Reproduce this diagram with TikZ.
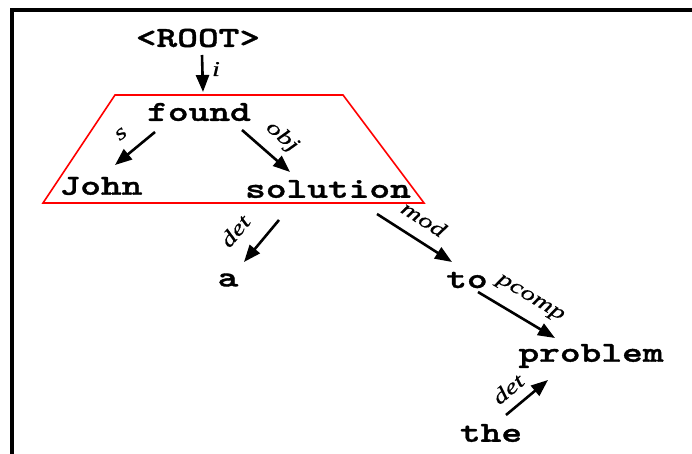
\documentclass[tikz,border=0pt]{standalone}
\usepackage{fontspec}
\usetikzlibrary{arrows.meta}
\newfontfamily\wordfont[FakeStretch=1.36,FakeBold=1.2]{lmmonolt10-bold.otf}
\newfontfamily\relfont[FakeStretch=1.35,FakeBold=0.5]{Liberation Serif}
\tikzset{
  word/.style={inner sep=0pt, font=\wordfont\fontsize{29}{29}\selectfont},
  rel/.style={inner sep=0pt, font=\relfont\itshape\fontsize{21}{21}\selectfont},
  dep/.style={line width=2.6pt, -{Triangle[length=17pt,width=13pt]}},
  frameline/.style={line width=4pt},
  phrase/.style={draw=red, line width=1.6pt}
}
\begin{document}
\begin{tikzpicture}[x=1pt,y=-1pt]
\useasboundingbox (0,0) rectangle (692,454);
% page frame
\draw[frameline] (12,454) -- (12,10) -- (692,10);
% words
\node[word] (root) at (198,38) {<ROOT>};
\node[word] (found) at (199,112) {found};
\node[word] (John) at (101,186) {John};
\node[word] (solution) at (328,189) {solution};
\node[word] (a) at (228,280) {a};
\node[word] (to) at (467,280) {to};
\node[word] (problem) at (591,356) {problem};
\node[word] (the) at (491,433) {the};
% phrase box
\draw[phrase] (115,95) -- (343,95) -- (424,203) -- (43,203) -- cycle;
% dependencies
\draw[dep] ([shift={(4,17)}]root.center) -- ([shift={(4,-20)}]found.center);
\draw[dep] ([shift={(-44,20)}]found.center) -- ([shift={(14,-21)}]John.center);
\draw[dep] ([shift={(43,18)}]found.center) -- ([shift={(-38,-17)}]solution.center);
\draw[dep] ([shift={(-49,31)}]solution.center) -- ([shift={(16,-18)}]a.center);
\draw[dep] ([shift={(49,25)}]solution.center) -- ([shift={(-15,-18)}]to.center);
\draw[dep] ([shift={(11,12)}]to.center) -- ([shift={(-36,-18)}]problem.center);
\draw[dep] ([shift={(15,-18)}]the.center) -- ([shift={(-43,24)}]problem.center);
% relation labels
\node[rel] (li) at (216,69) {i};
\node[rel, rotate=40] (ls) at (121,134) {s};
\node[rel, rotate=-41] (lobj) at (282,137) {obj};
\node[rel, rotate=50] (ldet) at (235,231) {det};
\node[rel, rotate=-33] (lmod) at (424,219) {mod};
\node[rel, rotate=-31] (lpcomp) at (530,299) {pcomp};
\node[rel, rotate=40] (ldet2) at (508,389) {det};
\end{tikzpicture}
\end{document}
